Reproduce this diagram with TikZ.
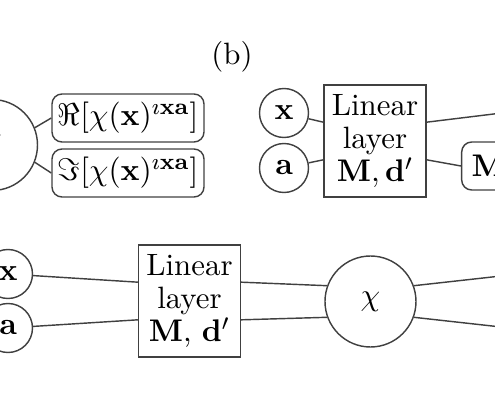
\documentclass[tikz,border=0pt]{standalone}
\usepackage{xcolor}
\usepackage{amssymb}
\usepackage{tikz}

\begin{document}
\begin{tikzpicture}[x=0.35pt, y=-0.35pt,
    every node/.style={font=\fontsize{10.8}{11.7}\selectfont},
    bigcirc/.style={draw=black!75, line width=0.5pt, circle, minimum size=31.85pt, inner sep=0pt},
    smallcirc/.style={draw=black!75, line width=0.5pt, circle, minimum size=17.15pt, inner sep=0pt},
    layerbox/.style={draw=black!75, line width=0.5pt, rectangle, minimum width=35.7pt, minimum height=39.2pt, align=center, inner sep=0pt},
    rbox/.style={draw=black!75, line width=0.5pt, rectangle, rounded corners=3.5pt, minimum width=53.2pt, minimum height=16.8pt, inner sep=0pt},
    wire/.style={draw=black!75, line width=0.5pt}]
    \useasboundingbox (0,0) rectangle (495,400);
    \clip (0,0) rectangle (495,400);

    \node (lab) at (232,57) {(b)};

    \node[bigcirc] (chiA) at (-8,145) {$\chi$};
    \node[rbox] (reBox) at (128,118) {$\Re[\chi(\mathbf{x})^{\imath\mathbf{x}\mathbf{a}}]$};
    \node[rbox] (imBox) at (128,173) {$\Im[\chi(\mathbf{x})^{\imath\mathbf{x}\mathbf{a}}]$};
    \draw[wire] (chiA.22) -- (reBox.west);
    \draw[wire] (chiA.-22) -- (imBox.west);

    \node[smallcirc] (xA) at (284,113) {$\mathbf{x}$};
    \node[smallcirc] (aA) at (284,168) {$\mathbf{a}$};
    \node[layerbox] (linA) at (375,141) {Linear\\layer\\$\mathbf{M},\mathbf{d}'$};
    \node[rbox, anchor=west, minimum width=0pt, text width=28pt, inner xsep=3.5pt, align=left] (mBox) at (461,166) {$\mathbf{M}$};
    \coordinate (outA) at (510,112);
    \draw[wire] (xA) -- (linA.160);
    \draw[wire] (aA) -- (linA.200);
    \draw[wire] (linA.20) -- (outA);
    \draw[wire] (linA.-20) -- (mBox.west);

    \node[smallcirc] (xB) at (8,274) {$\mathbf{x}$};
    \node[smallcirc] (aB) at (8,328) {$\mathbf{a}$};
    \node[layerbox] (linB) at (189.5,301) {Linear\\layer\\$\mathbf{M}$, $\mathbf{d}'$};
    \node[bigcirc] (chiB) at (370.5,301.5) {$\chi$};
    \coordinate (outB) at (510,275);
    \coordinate (outC) at (510,328);
    \draw[wire] (xB) -- (linB.160);
    \draw[wire] (aB) -- (linB.200);
    \draw[wire] (linB.20) -- (chiB.160);
    \draw[wire] (linB.-20) -- (chiB.200);
    \draw[wire] (chiB.20) -- (outB);
    \draw[wire] (chiB.-20) -- (outC);
\end{tikzpicture}
\end{document}
